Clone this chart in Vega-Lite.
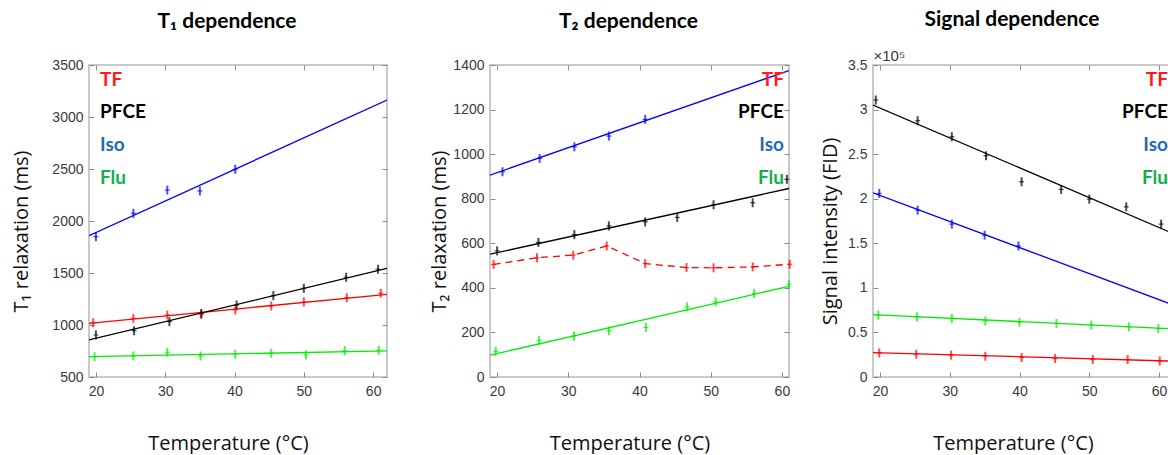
{
  "$schema": "https://vega.github.io/schema/vega-lite/v6.json",
  "padding": {"left": 11, "top": 7, "right": 0, "bottom": 0},
  "config": {
    "font": "Lato",
    "view": {"stroke": "#b8b8b8", "strokeWidth": 1.5},
    "axis": {"domain": false, "grid": false, "ticks": true, "tickSize": -5, "tickColor": "#8a8a8a", "tickWidth": 1, "labelFont": "Liberation Sans", "labelFontSize": 14, "labelColor": "#3a3a3a", "labelFlush": false, "titleFont": "Open Sans", "titleFontSize": 20, "titleFontWeight": "normal", "titleColor": "#111111", "minExtent": 0},
    "axisX": {"labelPadding": 12},
    "axisY": {"labelPadding": 11},
    "title": {"font": "Lato", "fontSize": 21, "fontWeight": "bold", "color": "#000000", "frame": "group", "dx": -11, "offset": 26, "baseline": "alphabetic"},
    "legend": {"title": null, "symbolSize": 0, "symbolOpacity": 0, "symbolStrokeWidth": 0, "labelFont": "Lato", "labelFontSize": 19, "labelFontWeight": "bold", "rowPadding": 12.8, "padding": 0, "labelOffset": 0}
  },
  "datasets": {
    "points": [
      {"panel": "T1", "series": "TF", "temp": 19.6, "value": 1022},
      {"panel": "T1", "series": "TF", "temp": 25.4, "value": 1064},
      {"panel": "T1", "series": "TF", "temp": 30.3, "value": 1096},
      {"panel": "T1", "series": "TF", "temp": 35.2, "value": 1100},
      {"panel": "T1", "series": "TF", "temp": 40.1, "value": 1144},
      {"panel": "T1", "series": "TF", "temp": 45.3, "value": 1183},
      {"panel": "T1", "series": "TF", "temp": 50.0, "value": 1221},
      {"panel": "T1", "series": "TF", "temp": 56.2, "value": 1263},
      {"panel": "T1", "series": "TF", "temp": 61.1, "value": 1305},
      {"panel": "T1", "series": "PFCE", "temp": 20.0, "value": 904},
      {"panel": "T1", "series": "PFCE", "temp": 25.5, "value": 945},
      {"panel": "T1", "series": "PFCE", "temp": 30.6, "value": 1032},
      {"panel": "T1", "series": "PFCE", "temp": 35.2, "value": 1112},
      {"panel": "T1", "series": "PFCE", "temp": 40.3, "value": 1192},
      {"panel": "T1", "series": "PFCE", "temp": 45.6, "value": 1282},
      {"panel": "T1", "series": "PFCE", "temp": 50.0, "value": 1353},
      {"panel": "T1", "series": "PFCE", "temp": 56.1, "value": 1459},
      {"panel": "T1", "series": "PFCE", "temp": 60.7, "value": 1536},
      {"panel": "T1", "series": "Iso", "temp": 20.0, "value": 1849},
      {"panel": "T1", "series": "Iso", "temp": 25.4, "value": 2074},
      {"panel": "T1", "series": "Iso", "temp": 30.3, "value": 2298},
      {"panel": "T1", "series": "Iso", "temp": 35.0, "value": 2289},
      {"panel": "T1", "series": "Iso", "temp": 40.1, "value": 2497},
      {"panel": "T1", "series": "Flu", "temp": 19.8, "value": 695},
      {"panel": "T1", "series": "Flu", "temp": 25.4, "value": 702},
      {"panel": "T1", "series": "Flu", "temp": 30.3, "value": 738},
      {"panel": "T1", "series": "Flu", "temp": 35.1, "value": 702},
      {"panel": "T1", "series": "Flu", "temp": 40.1, "value": 718},
      {"panel": "T1", "series": "Flu", "temp": 45.3, "value": 728},
      {"panel": "T1", "series": "Flu", "temp": 50.3, "value": 712},
      {"panel": "T1", "series": "Flu", "temp": 55.9, "value": 753},
      {"panel": "T1", "series": "Flu", "temp": 60.8, "value": 758},
      {"panel": "T2", "series": "TF", "temp": 19.5, "value": 505},
      {"panel": "T2", "series": "TF", "temp": 25.6, "value": 535},
      {"panel": "T2", "series": "TF", "temp": 30.7, "value": 547},
      {"panel": "T2", "series": "TF", "temp": 35.4, "value": 588},
      {"panel": "T2", "series": "TF", "temp": 40.8, "value": 509},
      {"panel": "T2", "series": "TF", "temp": 46.6, "value": 491},
      {"panel": "T2", "series": "TF", "temp": 50.4, "value": 490},
      {"panel": "T2", "series": "TF", "temp": 55.9, "value": 494},
      {"panel": "T2", "series": "TF", "temp": 61.1, "value": 506},
      {"panel": "T2", "series": "PFCE", "temp": 20.0, "value": 566},
      {"panel": "T2", "series": "PFCE", "temp": 25.8, "value": 604},
      {"panel": "T2", "series": "PFCE", "temp": 30.85, "value": 639},
      {"panel": "T2", "series": "PFCE", "temp": 35.7, "value": 678},
      {"panel": "T2", "series": "PFCE", "temp": 40.8, "value": 696},
      {"panel": "T2", "series": "PFCE", "temp": 45.3, "value": 716},
      {"panel": "T2", "series": "PFCE", "temp": 50.4, "value": 773},
      {"panel": "T2", "series": "PFCE", "temp": 55.9, "value": 782},
      {"panel": "T2", "series": "PFCE", "temp": 60.7, "value": 887},
      {"panel": "T2", "series": "Iso", "temp": 20.75, "value": 921},
      {"panel": "T2", "series": "Iso", "temp": 25.97, "value": 981},
      {"panel": "T2", "series": "Iso", "temp": 30.85, "value": 1033},
      {"panel": "T2", "series": "Iso", "temp": 35.7, "value": 1081},
      {"panel": "T2", "series": "Iso", "temp": 40.8, "value": 1156},
      {"panel": "T2", "series": "Flu", "temp": 19.8, "value": 115},
      {"panel": "T2", "series": "Flu", "temp": 25.9, "value": 165},
      {"panel": "T2", "series": "Flu", "temp": 30.8, "value": 183},
      {"panel": "T2", "series": "Flu", "temp": 35.7, "value": 207},
      {"panel": "T2", "series": "Flu", "temp": 40.9, "value": 222},
      {"panel": "T2", "series": "Flu", "temp": 46.7, "value": 315},
      {"panel": "T2", "series": "Flu", "temp": 50.7, "value": 337},
      {"panel": "T2", "series": "Flu", "temp": 56.1, "value": 375},
      {"panel": "T2", "series": "Flu", "temp": 61.0, "value": 416},
      {"panel": "S", "series": "PFCE", "temp": 19.4, "value": 3.107},
      {"panel": "S", "series": "PFCE", "temp": 25.4, "value": 2.875},
      {"panel": "S", "series": "PFCE", "temp": 30.3, "value": 2.695},
      {"panel": "S", "series": "PFCE", "temp": 35.2, "value": 2.482},
      {"panel": "S", "series": "PFCE", "temp": 40.3, "value": 2.19},
      {"panel": "S", "series": "PFCE", "temp": 45.97, "value": 2.104},
      {"panel": "S", "series": "PFCE", "temp": 50.0, "value": 1.995},
      {"panel": "S", "series": "PFCE", "temp": 55.3, "value": 1.909},
      {"panel": "S", "series": "PFCE", "temp": 60.3, "value": 1.715},
      {"panel": "S", "series": "Iso", "temp": 19.9, "value": 2.059},
      {"panel": "S", "series": "Iso", "temp": 25.4, "value": 1.872},
      {"panel": "S", "series": "Iso", "temp": 30.3, "value": 1.715},
      {"panel": "S", "series": "Iso", "temp": 35.0, "value": 1.591},
      {"panel": "S", "series": "Iso", "temp": 39.85, "value": 1.47},
      {"panel": "S", "series": "Flu", "temp": 19.76, "value": 0.693},
      {"panel": "S", "series": "Flu", "temp": 25.3, "value": 0.674},
      {"panel": "S", "series": "Flu", "temp": 30.3, "value": 0.656},
      {"panel": "S", "series": "Flu", "temp": 35.1, "value": 0.629},
      {"panel": "S", "series": "Flu", "temp": 40.0, "value": 0.614},
      {"panel": "S", "series": "Flu", "temp": 45.3, "value": 0.6},
      {"panel": "S", "series": "Flu", "temp": 50.3, "value": 0.581},
      {"panel": "S", "series": "Flu", "temp": 55.7, "value": 0.562},
      {"panel": "S", "series": "Flu", "temp": 59.9, "value": 0.544},
      {"panel": "S", "series": "TF", "temp": 19.9, "value": 0.27},
      {"panel": "S", "series": "TF", "temp": 25.2, "value": 0.255},
      {"panel": "S", "series": "TF", "temp": 30.2, "value": 0.245},
      {"panel": "S", "series": "TF", "temp": 35.1, "value": 0.233},
      {"panel": "S", "series": "TF", "temp": 40.3, "value": 0.218},
      {"panel": "S", "series": "TF", "temp": 45.1, "value": 0.207},
      {"panel": "S", "series": "TF", "temp": 50.5, "value": 0.196},
      {"panel": "S", "series": "TF", "temp": 55.5, "value": 0.196},
      {"panel": "S", "series": "TF", "temp": 60.1, "value": 0.18}
    ],
    "fits": [
      {"panel": "T1", "series": "TF", "temp": 19, "value": 1016},
      {"panel": "T1", "series": "TF", "temp": 62, "value": 1295},
      {"panel": "T1", "series": "PFCE", "temp": 19, "value": 856},
      {"panel": "T1", "series": "PFCE", "temp": 62, "value": 1545},
      {"panel": "T1", "series": "Iso", "temp": 19, "value": 1859},
      {"panel": "T1", "series": "Iso", "temp": 62, "value": 3163},
      {"panel": "T1", "series": "Flu", "temp": 19, "value": 695},
      {"panel": "T1", "series": "Flu", "temp": 62, "value": 751},
      {"panel": "T2", "series": "PFCE", "temp": 19, "value": 551},
      {"panel": "T2", "series": "PFCE", "temp": 61, "value": 846},
      {"panel": "T2", "series": "Iso", "temp": 19, "value": 906},
      {"panel": "T2", "series": "Iso", "temp": 61, "value": 1375},
      {"panel": "T2", "series": "Flu", "temp": 19, "value": 98},
      {"panel": "T2", "series": "Flu", "temp": 61, "value": 407},
      {"panel": "S", "series": "PFCE", "temp": 19, "value": 3.051},
      {"panel": "S", "series": "PFCE", "temp": 62, "value": 1.61},
      {"panel": "S", "series": "Iso", "temp": 19, "value": 2.066},
      {"panel": "S", "series": "Iso", "temp": 62, "value": 0.809},
      {"panel": "S", "series": "Flu", "temp": 19, "value": 0.70},
      {"panel": "S", "series": "Flu", "temp": 62, "value": 0.54},
      {"panel": "S", "series": "TF", "temp": 19, "value": 0.274},
      {"panel": "S", "series": "TF", "temp": 62, "value": 0.178}
    ]
  },
  "spacing": 26,
  "resolve": {"legend": {"color": "independent"}},
  "hconcat": [
    {
      "width": 298, "height": 312,
      "title": {"text": "T₁ dependence"},
      "layer": [
        {
          "data": {"name": "fits"},
          "transform": [{"filter": "datum.panel === 'T1'"}],
          "mark": {"type": "line", "strokeWidth": 1.3, "clip": true},
          "encoding": {
            "x": {"field": "temp", "type": "quantitative", "scale": {"domain": [19, 62], "nice": false, "zero": false}, "axis": {"orient": "bottom", "values": [20, 30, 40, 50, 60], "title": "Temperature (°C)", "titleX": 139, "titlePadding": 35}},
            "y": {"field": "value", "type": "quantitative", "scale": {"domain": [500, 3500], "nice": false, "zero": false}, "axis": {"orient": "left", "values": [500, 1000, 1500, 2000, 2500, 3000, 3500], "format": "d", "title": "T₁ relaxation (ms)", "titlePadding": 20, "titleY": 166}},
            "color": {"field": "series", "type": "nominal", "scale": {"domain": ["TF", "PFCE", "Iso", "Flu"], "range": ["#ff0000", "#000000", "#0000ff", "#00ee00"]},
              "legend": {"orient": "top-left", "offset": 5, "labelOffset": -13,
                "encode": {"labels": {"update": {"fill": {"signal": "datum.value === 'Iso' ? '#1e6cb4' : datum.value === 'Flu' ? '#10b048' : datum.value === 'TF' ? '#ff1a1a' : '#000000'"}}}}}}
          }
        },
        {
          "data": {"name": "points"},
          "transform": [{"filter": "datum.panel === 'T1'"}],
          "mark": {"type": "tick", "orient": "vertical", "size": 9, "thickness": 2},
          "encoding": {
            "x": {"field": "temp", "type": "quantitative", "scale": {"domain": [19, 62], "nice": false, "zero": false}, "axis": {"orient": "top", "labels": false, "title": null, "values": [20, 30, 40, 50, 60]}},
            "y": {"field": "value", "type": "quantitative", "scale": {"domain": [500, 3500], "nice": false, "zero": false}, "axis": {"orient": "right", "labels": false, "title": null, "values": [500, 1000, 1500, 2000, 2500, 3000, 3500], "minExtent": 15}},
            "color": {"field": "series", "type": "nominal", "legend": null}
          }
        },
        {
          "data": {"name": "points"},
          "transform": [{"filter": "datum.panel === 'T1'"}],
          "mark": {"type": "tick", "orient": "horizontal", "size": 5, "thickness": 1.2},
          "encoding": {
            "x": {"field": "temp", "type": "quantitative", "axis": null},
            "y": {"field": "value", "type": "quantitative", "axis": null},
            "color": {"field": "series", "type": "nominal", "legend": null}
          }
        }
      ]
    },
    {
      "width": 299, "height": 312,
      "title": {"text": "T₂ dependence"},
      "layer": [
        {
          "data": {"name": "fits"},
          "transform": [{"filter": "datum.panel === 'T2'"}],
          "mark": {"type": "line", "strokeWidth": 1.3, "clip": true},
          "encoding": {
            "x": {"field": "temp", "type": "quantitative", "scale": {"domain": [19, 61], "nice": false, "zero": false}, "axis": {"orient": "bottom", "values": [20, 30, 40, 50, 60], "title": "Temperature (°C)", "titleX": 139.5, "titlePadding": 35}},
            "y": {"field": "value", "type": "quantitative", "scale": {"domain": [0, 1400], "nice": false, "zero": false}, "axis": {"orient": "left", "values": [0, 200, 400, 600, 800, 1000, 1200, 1400], "format": "d", "title": "T₂ relaxation (ms)", "titlePadding": 3, "titleY": 166}},
            "color": {"field": "series", "type": "nominal", "scale": {"domain": ["TF", "PFCE", "Iso", "Flu"], "range": ["#ff0000", "#000000", "#0000ff", "#00ee00"]},
              "legend": {"orient": "top-right", "labelAlign": "right", "offset": 5, "labelOffset": -4,
                "encode": {"labels": {"update": {"fill": {"signal": "datum.value === 'Iso' ? '#1e6cb4' : datum.value === 'Flu' ? '#10b048' : datum.value === 'TF' ? '#ff1a1a' : '#000000'"}}}}}}
          }
        },
        {
          "data": {"name": "points"},
          "transform": [{"filter": "datum.panel === 'T2' && datum.series === 'TF'"}],
          "mark": {"type": "line", "strokeWidth": 1.3, "strokeDash": [7, 5], "clip": true},
          "encoding": {
            "x": {"field": "temp", "type": "quantitative", "axis": null},
            "y": {"field": "value", "type": "quantitative", "axis": null},
            "color": {"field": "series", "type": "nominal", "legend": null}
          }
        },
        {
          "data": {"name": "points"},
          "transform": [{"filter": "datum.panel === 'T2'"}],
          "mark": {"type": "tick", "orient": "vertical", "size": 9, "thickness": 2},
          "encoding": {
            "x": {"field": "temp", "type": "quantitative", "scale": {"domain": [19, 61], "nice": false, "zero": false}, "axis": {"orient": "top", "labels": false, "title": null, "values": [20, 30, 40, 50, 60]}},
            "y": {"field": "value", "type": "quantitative", "scale": {"domain": [0, 1400], "nice": false, "zero": false}, "axis": {"orient": "right", "labels": false, "title": null, "values": [0, 200, 400, 600, 800, 1000, 1200, 1400]}},
            "color": {"field": "series", "type": "nominal", "legend": null}
          }
        },
        {
          "data": {"name": "points"},
          "transform": [{"filter": "datum.panel === 'T2'"}],
          "mark": {"type": "tick", "orient": "horizontal", "size": 5, "thickness": 1.2},
          "encoding": {
            "x": {"field": "temp", "type": "quantitative", "axis": null},
            "y": {"field": "value", "type": "quantitative", "axis": null},
            "color": {"field": "series", "type": "nominal", "legend": null}
          }
        }
      ]
    },
    {
      "width": 300, "height": 312,
      "title": {"text": "Signal dependence", "offset": 19},
      "layer": [
        {
          "data": {"name": "fits"},
          "transform": [{"filter": "datum.panel === 'S'"}],
          "mark": {"type": "line", "strokeWidth": 1.3, "clip": true},
          "encoding": {
            "x": {"field": "temp", "type": "quantitative", "scale": {"domain": [19, 62], "nice": false, "zero": false}, "axis": {"orient": "bottom", "values": [20, 30, 40, 50, 60], "title": "Temperature (°C)", "titleX": 140, "titlePadding": 35}},
            "y": {"field": "value", "type": "quantitative", "scale": {"domain": [0, 3.5], "nice": false, "zero": false}, "axis": {"orient": "left", "values": [0, 0.5, 1, 1.5, 2, 2.5, 3, 3.5], "format": "~g", "title": "Signal intensity (FID)", "titlePadding": 7, "titleY": 166}},
            "color": {"field": "series", "type": "nominal", "scale": {"domain": ["TF", "PFCE", "Iso", "Flu"], "range": ["#ff0000", "#000000", "#0000ff", "#00ee00"]},
              "legend": {"orient": "top-right", "labelAlign": "right", "offset": 5, "labelOffset": -4,
                "encode": {"labels": {"update": {"fill": {"signal": "datum.value === 'Iso' ? '#1e6cb4' : datum.value === 'Flu' ? '#10b048' : datum.value === 'TF' ? '#ff1a1a' : '#000000'"}}}}}}
          }
        },
        {
          "data": {"name": "points"},
          "transform": [{"filter": "datum.panel === 'S'"}],
          "mark": {"type": "tick", "orient": "vertical", "size": 9, "thickness": 2},
          "encoding": {
            "x": {"field": "temp", "type": "quantitative", "scale": {"domain": [19, 62], "nice": false, "zero": false}, "axis": {"orient": "top", "labels": false, "values": [20, 30, 40, 50, 60], "title": "×10⁵", "titleAnchor": "start", "titleAlign": "left", "titleFont": "Liberation Sans", "titleFontSize": 15, "titleColor": "#3a3a3a", "titlePadding": 1}},
            "y": {"field": "value", "type": "quantitative", "scale": {"domain": [0, 3.5], "nice": false, "zero": false}, "axis": {"orient": "right", "labels": false, "title": null, "values": [0, 0.5, 1, 1.5, 2, 2.5, 3, 3.5]}},
            "color": {"field": "series", "type": "nominal", "legend": null}
          }
        },
        {
          "data": {"name": "points"},
          "transform": [{"filter": "datum.panel === 'S'"}],
          "mark": {"type": "tick", "orient": "horizontal", "size": 5, "thickness": 1.2},
          "encoding": {
            "x": {"field": "temp", "type": "quantitative", "axis": null},
            "y": {"field": "value", "type": "quantitative", "axis": null},
            "color": {"field": "series", "type": "nominal", "legend": null}
          }
        }
      ]
    }
  ]
}
